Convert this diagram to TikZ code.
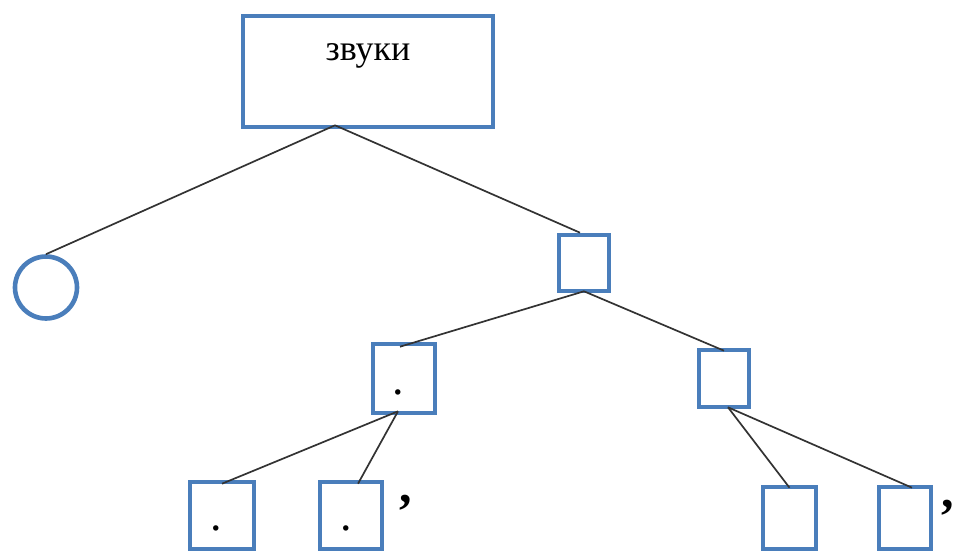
\documentclass[tikz,border=0pt]{standalone}
\usepackage{fontspec}
\setmainfont{Liberation Serif}
\definecolor{boxblue}{HTML}{4A7EBB}
\definecolor{linegray}{HTML}{333333}
\begin{document}
\begin{tikzpicture}[x=1pt,y=-1pt,
  box/.style={draw=boxblue,line width=4.6pt,rectangle,inner sep=0pt},
  ring/.style={draw=boxblue,line width=4.6pt,circle,inner sep=0pt,minimum size=62pt},
  conn/.style={draw=linegray,line width=1.7pt},
  dotmark/.style={inner sep=0pt,font=\fontsize{46}{46}\selectfont},
  commamark/.style={inner sep=0pt,font=\fontsize{50}{50}\selectfont\bfseries}]
\useasboundingbox (0,0) rectangle (958,556);
\node[box,minimum width=250pt,minimum height=111pt] (top) at (368,71.5) {};
\node[inner sep=0pt,font=\fontsize{36}{40}\selectfont] (toplabel) at (368,56) {звуки};
\node[ring] (c) at (46,287.5) {};
\node[box,minimum width=50pt,minimum height=56pt] (s1) at (584,263) {};
\node[box,minimum width=62pt,minimum height=69pt] (s2) at (404,378.5) {};
\node[box,minimum width=50pt,minimum height=57pt] (s3) at (724,378.5) {};
\node[box,minimum width=64pt,minimum height=67pt] (s4) at (222,515.5) {};
\node[box,minimum width=62pt,minimum height=67pt] (s5) at (351,515.5) {};
\node[box,minimum width=53pt,minimum height=62pt] (s6) at (789.5,518) {};
\node[box,minimum width=52pt,minimum height=62pt] (s7) at (905,518) {};
\node[dotmark] (d2) at (398,392) {.};
\node[dotmark] (d4) at (216,528) {.};
\node[dotmark] (d5) at (346,528) {.};
\node[commamark] (k5) at (406,503) {,};
\node[commamark] (k7) at (948,508) {,};
\coordinate (t0) at ([xshift=-33pt,yshift=4pt]top.south);
\coordinate (b1) at ([yshift=2pt]s1.south);
\coordinate (b2) at ([xshift=-6pt,yshift=4pt]s2.south);
\coordinate (b3) at ([xshift=4pt,yshift=2pt]s3.south);
\draw[conn] (t0) -- (c.north);
\draw[conn] (t0) -- ([xshift=-4pt]s1.north);
\draw[conn] (b1) -- ([xshift=-4pt,yshift=-5pt]s2.north);
\draw[conn] (b1) -- ([yshift=-3pt]s3.north);
\draw[conn] (b2) -- ([yshift=-4pt]s4.north);
\draw[conn] (b2) -- ([xshift=7pt,yshift=-4pt]s5.north);
\draw[conn] (b3) -- ([yshift=-3pt]s6.north);
\draw[conn] (b3) -- ([xshift=7pt,yshift=-3pt]s7.north);
\end{tikzpicture}
\end{document}
